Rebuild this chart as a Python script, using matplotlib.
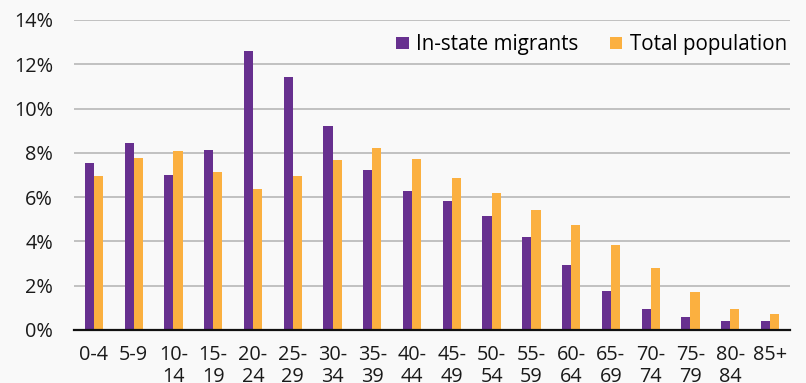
import numpy as np
import matplotlib
matplotlib.use('Agg')
import matplotlib.pyplot as plt
from matplotlib.ticker import FuncFormatter

# Age groups and shares (%)
age_groups = ['0-4', '5-9', '10-\n14', '15-\n19', '20-\n24', '25-\n29', '30-\n34', '35-\n39',
              '40-\n44', '45-\n49', '50-\n54', '55-\n59', '60-\n64', '65-\n69', '70-\n74',
              '75-\n79', '80-\n84', '85+']
in_state = [7.56, 8.46, 6.98, 8.11, 12.62, 11.43, 9.23, 7.21, 6.29, 5.83, 5.13, 4.19,
            2.94, 1.76, 0.96, 0.59, 0.42, 0.41]
total_pop = [6.94, 7.77, 8.08, 7.14, 6.35, 6.96, 7.66, 8.22, 7.74, 6.88, 6.17, 5.41,
             4.74, 3.85, 2.79, 1.70, 0.93, 0.72]

plt.rcParams['font.family'] = ['Open Sans', 'DejaVu Sans']

fig = plt.figure(figsize=(8.06, 3.83), dpi=100, facecolor='#f9f9f9')
ax = fig.add_axes([0.0918, 0.1384, 0.8882, 0.8094])
ax.set_facecolor('none')

x = np.arange(len(age_groups))
w = 0.23
ax.bar(x - w / 2, in_state, w, color='#67308f', label='In-state migrants', zorder=3)
ax.bar(x + w / 2, total_pop, w, color='#fbb040', label='Total population', zorder=3)

ax.set_xlim(-0.5, len(age_groups) - 0.5)
ax.set_ylim(0, 14)
ax.set_yticks(np.arange(0, 15, 2))
ax.yaxis.set_major_formatter(FuncFormatter(lambda v, p: f'{v:.0f}%'))
ax.set_xticks(x)
ax.set_xticklabels(age_groups, linespacing=1.12)
ax.tick_params(axis='both', length=0, labelsize=14.3, colors='#1a1a1a')
ax.tick_params(axis='y', pad=15)
ax.tick_params(axis='x', pad=11)

ax.grid(axis='y', color='#b8b8b8', linewidth=1.2, zorder=0)
for s in ['top', 'right', 'left']:
    ax.spines[s].set_visible(False)
ax.spines['bottom'].set_color('#111111')
ax.spines['bottom'].set_linewidth(1.6)
ax.spines['bottom'].set_zorder(4)

ax.legend(loc='upper right', bbox_to_anchor=(1.007, 0.98), ncol=2, frameon=False,
          fontsize=14.8, handlelength=0.6, handleheight=0.55, handletextpad=0.35,
          columnspacing=1.55, borderaxespad=0)

fig.savefig('out.png', dpi=100, facecolor=fig.get_facecolor())
